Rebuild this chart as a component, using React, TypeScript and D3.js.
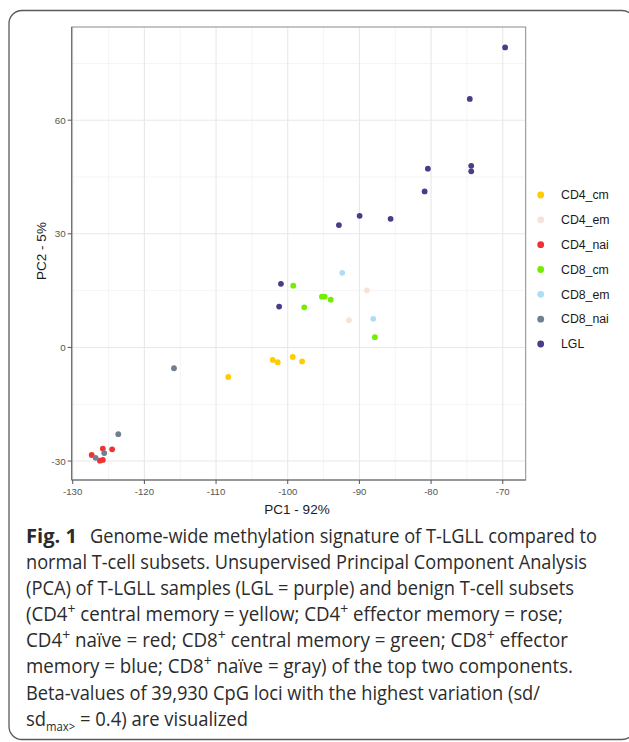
import * as d3 from 'd3';

// PCA scores, one array per subset
const groups = ['CD4_cm', 'CD4_em', 'CD4_nai', 'CD8_cm', 'CD8_em', 'CD8_nai', 'LGL'];
const groupColors = ['#FFCC00', '#F5E3D8', '#F03232', '#74EE00', '#B0DCF5', '#708090', '#4A3C88'];

const cd4cm = [[-102.1, -3.3], [-101.4, -3.9], [-99.3, -2.5], [-98.0, -3.7], [-108.3, -7.8]];
const cd4em = [[-88.95, 15.05], [-91.46, 7.2]];
const cd4nai = [[-127.35, -28.4], [-125.8, -26.7], [-124.5, -26.9], [-126.2, -29.9], [-125.8, -29.7]];
const cd8cm = [[-99.23, 16.3], [-97.7, 10.6], [-95.23, 13.4], [-94.85, 13.4], [-94.0, 12.6], [-87.84, 2.7]];
const cd8em = [[-92.4, 19.7], [-88.07, 7.55]];
const cd8nai = [[-115.87, -5.5], [-123.64, -22.9], [-125.6, -27.9], [-126.8, -29.15]];
const lgl = [
  [-69.67, 79.2], [-74.6, 65.6], [-74.4, 47.95], [-74.4, 46.5], [-80.45, 47.2], [-80.9, 41.2],
  [-85.65, 33.96], [-89.97, 34.75], [-92.86, 32.3], [-100.95, 16.8], [-101.2, 10.8],
];
const samples = [cd4cm, cd4em, cd4nai, cd8cm, cd8em, cd8nai, lgl];

const xTicks = [-130, -120, -110, -100, -90, -80, -70];
const xMinor = [-125, -115, -105, -95, -85, -75];
const yTicks = [-30, 0, 30, 60];
const yMinor = [-15, 15, 45, 75];

// caption lines: even entries normal text, odd entries superscript
const captionLines: string[][] = [
  ['normal T-cell subsets. Unsupervised Principal Component Analysis'],
  ['(PCA) of T-LGLL samples (LGL = purple) and benign T-cell subsets'],
  ['(CD4', '+', ' central memory = yellow; CD4', '+', ' effector memory = rose;'],
  ['CD4', '+', ' naïve = red; CD8', '+', ' central memory = green; CD8', '+', ' effector'],
  ['memory = blue; CD8', '+', ' naïve = gray) of the top two components.'],
  ['Beta-values of 39,930 CpG loci with the highest variation (sd/'],
];
const captionWidths = [561, 548, 537, 542, 547, 514];

const W = 629;
const H = 742;
const panel = { left: 71.7, right: 525.7, top: 27, bottom: 480 };

const x = d3.scaleLinear().domain([-130.14, -66.8]).range([panel.left, panel.right]);
const y = d3.scaleLinear().domain([-35.0, 84.6]).range([panel.bottom, panel.top]);

const legendY = d3.scalePoint<string>().domain(groups).range([195, 344]);

const capFont = "'Open Sans', 'Noto Sans', sans-serif";
const capSize = 19.5;
const capColor = '#2b2b2b';
const lineY = (i: number) => 542.6 + i * 26.15;

const renderParts = (parts: string[]) =>
  parts.map((p, i) => {
    if (i % 2 === 1) return <tspan key={i} dy={-7.5} fontSize={14.5}>{p}</tspan>;
    return <tspan key={i} dy={i === 0 ? 0 : 7.5}>{p}</tspan>;
  });

export default function App() {
  return (
    <svg width={W} height={H} style={{ position: 'absolute', left: 0, top: 0, background: '#fff' }}
      fontFamily="'Liberation Sans', Arial, sans-serif">
      <rect x={9} y={10.5} width={626} height={729} rx={13} fill="none" stroke="#5a5a5a" strokeWidth={1.3} />

      {/* grid */}
      <g>
        {xMinor.map((v) => (
          <line key={'xm' + v} x1={x(v)} x2={x(v)} y1={panel.top} y2={panel.bottom} stroke="#f1f1f1" strokeWidth={0.8} />
        ))}
        {yMinor.map((v) => (
          <line key={'ym' + v} x1={panel.left} x2={panel.right} y1={y(v)} y2={y(v)} stroke="#f1f1f1" strokeWidth={0.8} />
        ))}
        {xTicks.map((v) => (
          <line key={'xg' + v} x1={x(v)} x2={x(v)} y1={panel.top} y2={panel.bottom} stroke="#e8e8e8" strokeWidth={1.1} />
        ))}
        {yTicks.map((v) => (
          <line key={'yg' + v} x1={panel.left} x2={panel.right} y1={y(v)} y2={y(v)} stroke="#e8e8e8" strokeWidth={1.1} />
        ))}
      </g>

      {/* points */}
      {samples.map((pts, gi) =>
        pts.map((p, i) => (
          <circle key={groups[gi] + i} cx={x(p[0])} cy={y(p[1])} r={2.9} fill={groupColors[gi]} />
        ))
      )}

      <rect x={panel.left} y={panel.top} width={panel.right - panel.left} height={panel.bottom - panel.top}
        fill="none" stroke="#8a8a8a" strokeWidth={1} />
      <line x1={panel.left} x2={panel.left} y1={panel.top} y2={panel.bottom} stroke="#6a6a6a" strokeWidth={1.1} />
      <line x1={panel.left} x2={panel.right} y1={panel.bottom} y2={panel.bottom} stroke="#6a6a6a" strokeWidth={1.1} />

      {/* axes */}
      {xTicks.map((v) => (
        <g key={'xt' + v}>
          <line x1={x(v)} x2={x(v)} y1={panel.bottom} y2={panel.bottom + 4} stroke="#555" strokeWidth={1} />
          <text x={x(v)} y={495} textAnchor="middle" fontSize={9.6} fill="#555">{v}</text>
        </g>
      ))}
      {yTicks.map((v) => (
        <g key={'yt' + v}>
          <line x1={panel.left - 4} x2={panel.left} y1={y(v)} y2={y(v)} stroke="#555" strokeWidth={1} />
          <text x={panel.left - 6} y={y(v) + 3.5} textAnchor="end" fontSize={9.8} fill="#555">{v}</text>
        </g>
      ))}
      <text x={297} y={514} textAnchor="middle" fontSize={13.5} fill="#1a1a1a">PC1 - 92%</text>
      <text transform="translate(45.5,251) rotate(-90)" textAnchor="middle" fontSize={13.5} fill="#1a1a1a">PC2 - 5%</text>

      {/* legend */}
      {groups.map((g, i) => (
        <g key={'lg' + g}>
          <circle cx={540.7} cy={legendY(g)} r={3.4} fill={groupColors[i]} />
          <text x={561} y={(legendY(g) as number) + 4.2} fontSize={12.3} fill="#1a1a1a">{g}</text>
        </g>
      ))}

      {/* caption */}
      <g fontFamily={capFont} fontSize={capSize} fill={capColor}>
        <text x={26} y={lineY(0)} fontWeight="bold" textLength={51} lengthAdjust="spacingAndGlyphs">Fig. 1</text>
        <text x={90} y={lineY(0)} textLength={507} lengthAdjust="spacingAndGlyphs">
          Genome-wide methylation signature of T-LGLL compared to
        </text>
        {captionLines.map((parts, i) => (
          <text key={'cap' + i} x={26} y={lineY(i + 1)} textLength={captionWidths[i]} lengthAdjust="spacingAndGlyphs">
            {renderParts(parts)}
          </text>
        ))}
        <text x={26} y={lineY(7)} textLength={222} lengthAdjust="spacingAndGlyphs">
          sd<tspan dy={5} fontSize={12}>max&gt;</tspan><tspan dy={-5}> = 0.4) are visualized</tspan>
        </text>
      </g>
    </svg>
  );
}
